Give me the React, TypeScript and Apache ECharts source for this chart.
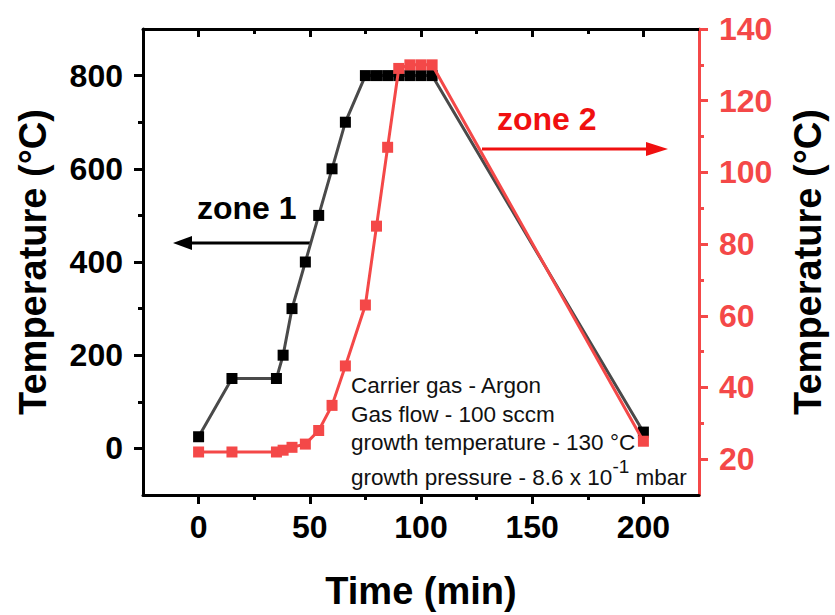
import React, { useEffect, useRef } from "react";
import * as echarts from "echarts";

// ---- data ----
const timeMin = [0, 15, 35, 38, 42, 48, 54, 60, 66, 75, 80, 85, 90, 95, 100, 105, 200];
const zone1Temp = [25, 150, 150, 200, 300, 400, 500, 600, 700, 800, 800, 800, 800, 800, 800, 800, 35];
const zone2Temp = [22, 22, 22, 22.5, 23.3, 24.2, 28, 35, 46, 63, 85, 107, 129, 130, 130, 130, 25];

const xMajor = [0, 50, 100, 150, 200];
const xMinor = [25, 75, 125, 175];
const leftMajor = [0, 200, 400, 600, 800];
const leftMinor = [100, 300, 500, 700];
const rightMajor = [20, 40, 60, 80, 100, 120, 140];
const rightMinor = [30, 50, 70, 90, 110, 130];

const infoLines = [
  "Carrier gas - Argon",
  "Gas flow - 100 sccm",
  "growth temperature - 130 °C",
];

const FONT = "'Liberation Sans', Arial, sans-serif";
const RED = "#f44848";
const BLACK = "#000";

function xAxisDef(position: string, ticks: number[], len: number, inside: boolean, showLine: boolean, labels: boolean, extra: any = {}) {
  return {
    type: "value",
    min: -25,
    max: 225,
    position,
    axisLine: { show: showLine, onZero: false, lineStyle: { color: BLACK, width: 3 } },
    axisTick: { show: true, inside, length: len, customValues: ticks, lineStyle: { color: BLACK, width: 3 } },
    axisLabel: labels
      ? { show: true, customValues: ticks, margin: 16, fontSize: 32, fontWeight: "bold", color: BLACK, fontFamily: FONT }
      : { show: false },
    splitLine: { show: false },
    ...extra,
  };
}

function yAxisDef(position: string, min: number, max: number, ticks: number[], len: number, color: string, showLine: boolean, labels: boolean, extra: any = {}) {
  return {
    type: "value",
    min,
    max,
    position,
    axisLine: { show: showLine, onZero: false, lineStyle: { color, width: 3 } },
    axisTick: { show: true, inside: false, length: len, customValues: ticks, lineStyle: { color, width: 3 } },
    axisLabel: labels
      ? { show: true, customValues: ticks, margin: 20, fontSize: 32, fontWeight: "bold", color, fontFamily: FONT }
      : { show: false },
    splitLine: { show: false },
    ...extra,
  };
}

export default function App() {
  const ref = useRef<HTMLDivElement>(null);

  useEffect(() => {
    if (!ref.current) return;
    const chart = echarts.init(ref.current, null, { renderer: "svg" });

    const zone1Data = timeMin.map((t, i) => [t, zone1Temp[i]]);
    const zone2Data = timeMin.map((t, i) => [t, zone2Temp[i]]);

    const nameStyle = { fontSize: 38, fontWeight: "bold", color: BLACK, fontFamily: FONT };

    const option: any = {
      animation: false,
      backgroundColor: "#fff",
      grid: { left: 143, right: 134, top: 29, bottom: 118, containLabel: false },
      xAxis: [
        xAxisDef("bottom", xMajor, 9, false, true, true, {
          name: "Time (min)",
          nameLocation: "middle",
          nameGap: 77,
          nameTextStyle: nameStyle,
        }),
        xAxisDef("bottom", xMinor, 5, false, false, false),
        xAxisDef("top", xMajor, 8, true, true, false),
        xAxisDef("top", xMinor, 5, true, false, false),
      ],
      yAxis: [
        yAxisDef("left", -100, 900, leftMajor, 9, BLACK, true, true, {
          name: "Temperature (°C)",
          nameLocation: "middle",
          nameGap: 91,
          nameTextStyle: nameStyle,
        }),
        yAxisDef("left", -100, 900, leftMinor, 5, BLACK, false, false),
        yAxisDef("right", 10, 140, rightMajor, 9, RED, true, true, {
          name: "Temperature (°C)",
          nameLocation: "middle",
          nameGap: 90,
          nameTextStyle: nameStyle,
        }),
        yAxisDef("right", 10, 140, rightMinor, 5, RED, false, false),
      ],
      series: [
        {
          type: "line",
          name: "zone 1",
          xAxisIndex: 0,
          yAxisIndex: 0,
          data: zone1Data,
          symbol: "rect",
          symbolSize: 11,
          showAllSymbol: true,
          lineStyle: { color: "#4a4a4a", width: 3 },
          itemStyle: { color: "#000" },
          z: 3,
        },
        {
          type: "line",
          name: "zone 2",
          xAxisIndex: 0,
          yAxisIndex: 2,
          data: zone2Data,
          symbol: "rect",
          symbolSize: 11,
          showAllSymbol: true,
          lineStyle: { color: RED, width: 3 },
          itemStyle: { color: RED },
          z: 4,
        },
      ],
      graphic: [
        {
          type: "text",
          left: 197,
          top: 192,
          style: { text: "zone 1", fontSize: 32, fontWeight: "bold", fill: BLACK, fontFamily: FONT },
        },
        {
          type: "line",
          shape: { x1: 310, y1: 243, x2: 186, y2: 243 },
          style: { stroke: BLACK, lineWidth: 3 },
        },
        {
          type: "polygon",
          shape: { points: [[173, 243], [192, 236], [192, 250]] },
          style: { fill: BLACK },
        },
        {
          type: "text",
          left: 497,
          top: 103,
          style: { text: "zone 2", fontSize: 32, fontWeight: "bold", fill: "#f01010", fontFamily: FONT },
        },
        {
          type: "line",
          shape: { x1: 482, y1: 149, x2: 655, y2: 149 },
          style: { stroke: "#f01010", lineWidth: 3 },
        },
        {
          type: "polygon",
          shape: { points: [[668, 149], [646, 142], [646, 156]] },
          style: { fill: "#f01010" },
        },
        ...infoLines.map((t, i) => ({
          type: "text",
          x: 351,
          y: [385, 414, 442][i],
          style: { text: t, fontSize: 22.5, fill: "#111", fontFamily: FONT, verticalAlign: "middle" },
        })),
        {
          type: "text",
          x: 351,
          y: 489,
          style: {
            text: "{a|growth pressure - 8.6 x 10}{s|-1}{a| mbar}",
            verticalAlign: "bottom",
            fill: "#111",
            fontFamily: FONT,
            rich: {
              a: { fontSize: 22.5, fill: "#111", fontFamily: FONT, lineHeight: 32, verticalAlign: "bottom" },
              s: { fontSize: 19, fill: "#111", fontFamily: FONT, lineHeight: 19, verticalAlign: "top" },
            },
          },
        },
      ],
    };

    chart.setOption(option);
    return () => chart.dispose();
  }, []);

  return (
    <div
      ref={ref}
      style={{ position: "fixed", left: 0, top: 0, width: 835, height: 615, background: "#fff" }}
    />
  );
}
